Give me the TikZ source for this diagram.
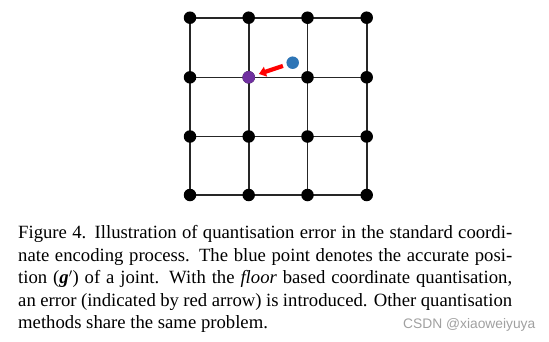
\documentclass[tikz,border=0pt]{standalone}
\usepackage{fontspec}
\setmainfont{Liberation Serif}
\newfontfamily\wmfont{Liberation Sans}
\usetikzlibrary{arrows.meta}
\definecolor{ptblue}{HTML}{2E75B6}
\definecolor{ptpurple}{HTML}{7030A0}
\definecolor{wmgray}{HTML}{A0A0A0}
\tikzset{
  dot/.style={circle,fill=black,minimum size=12.5pt,inner sep=0pt,outer sep=0pt},
  gridline/.style={line width=1.6pt,black!85},
  err/.style={red,line width=4.2pt,-{Triangle[length=7pt,width=10pt]},shorten >=4.5pt,shorten <=4pt},
}
\begin{document}
\begin{tikzpicture}[x=1pt,y=-1pt]
\useasboundingbox (0,0) rectangle (549,341);
% grid positions
\def\xa{190}\def\xb{248.7}\def\xc{307.5}\def\xd{366.7}
\def\ya{17.7}\def\yb{77.3}\def\yc{136.5}\def\yd{195}
\foreach \c/\xx in {1/\xa,2/\xb,3/\xc,4/\xd}{
  \foreach \r/\yy in {1/\ya,2/\yb,3/\yc,4/\yd}{
    \coordinate (p\c\r) at (\xx,\yy);
  }
}
% grid lines
\foreach \c in {1,2,3,4}{\draw[gridline] (p\c1) -- (p\c4);}
\foreach \r in {1,2,3,4}{\draw[gridline] (p1\r) -- (p4\r);}
% dots
\foreach \c in {1,2,3,4}{
  \foreach \r in {1,2,3,4}{
    \node[dot] (d\c\r) at (p\c\r) {};
  }
}
\node[dot,fill=ptpurple] (q) at (p22) {};
\node[dot,fill=ptblue] (g) at (292.7,62.7) {};
\draw[err] (g) -- (q);
% caption
\node[anchor=north west,inner sep=0pt,text width=494pt,align=justify,
      font=\fontsize{18.7}{22.5}\selectfont] (cap) at (18,225.3) {%
\hbadness=10000 \emergencystretch=20pt
Figure 4. Illustration of quantisation error in the standard coordi-\linebreak
nate encoding process. The blue point denotes the accurate posi-\linebreak
tion ({\bfseries\itshape g}$'$) of a joint. With the \textit{floor} based coordinate quantisation,\linebreak
an error (indicated by red arrow) is introduced. Other quantisation\linebreak
methods share the same problem.};
\node[anchor=base west,inner sep=0pt,text=wmgray,font=\wmfont\fontsize{13.8}{16}\selectfont] (wm) at (403,328.3) {CSDN @xiaoweiyuya};
\end{tikzpicture}
\end{document}
